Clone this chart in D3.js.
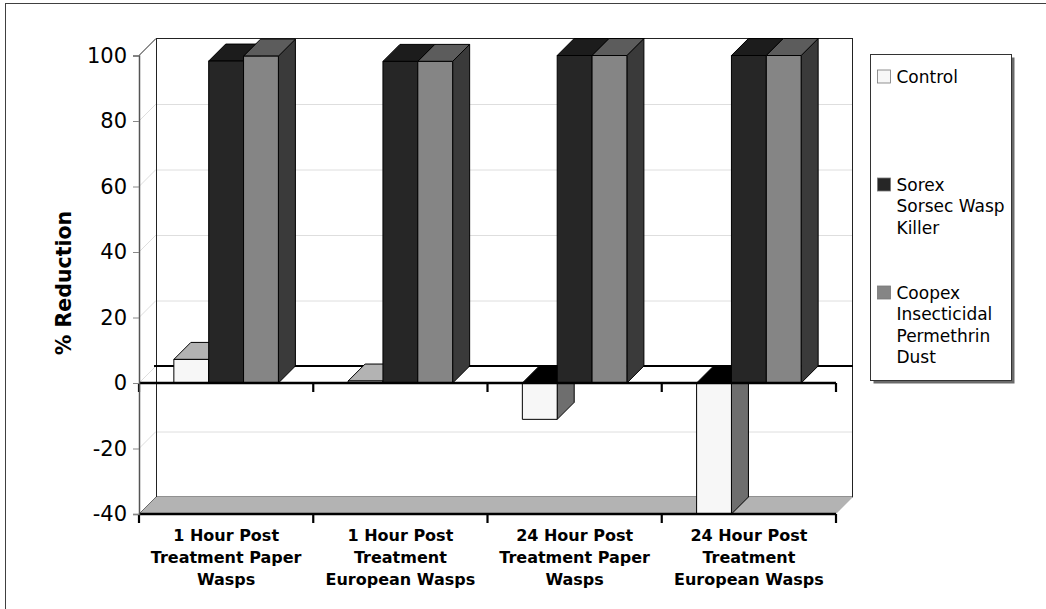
<!DOCTYPE html>
<html>
<head>
<meta charset="utf-8">
<script src="https://cdn.jsdelivr.net/npm/d3@7"></script>
<style>
  html, body { margin: 0; padding: 0; background: #fff; }
  svg { display: block; font-family: "DejaVu Sans", Verdana, sans-serif; }
</style>
</head>
<body>
<script>
// ---- data ----
const categoryLines = [
  ["1 Hour Post", "Treatment Paper", "Wasps"],
  ["1 Hour Post", "Treatment", "European Wasps"],
  ["24 Hour Post", "Treatment Paper", "Wasps"],
  ["24 Hour Post", "Treatment", "European Wasps"]
];
const categories = categoryLines.map(l => l.join(" "));

const seriesLines = [
  ["Control"],
  ["Sorex", "Sorsec Wasp", "Killer"],
  ["Coopex", "Insecticidal", "Permethrin", "Dust"]
];
const seriesNames = seriesLines.map(l => l.join(" "));

const controlValues = [7.2, 0.6, -11.1, -40];
const sorexValues   = [98.3, 98.2, 100, 100];
const coopexValues  = [99.8, 98.2, 100, 100];
const seriesValues = [controlValues, sorexValues, coopexValues];

const yTicks = [-40, -20, 0, 20, 40, 60, 80, 100];
const yTitle = "% Reduction";

// face shading per series: front, top, right side, top face seen at zero for negative bars
const faceColors = [
  { front: "#f7f7f7", top: "#b3b3b3", side: "#6e6e6e", capNeg: "#000000" },
  { front: "#262626", top: "#1c1c1c", side: "#141414", capNeg: "#000000" },
  { front: "#858585", top: "#5c5c5c", side: "#3a3a3a", capNeg: "#2a2a2a" }
];

// ---- layout ----
const W = 1046, H = 609;
const depth = 17;
const svg = d3.select("body").append("svg")
  .attr("width", W).attr("height", H)
  .style("overflow", "hidden");

const y = d3.scaleLinear().domain([-40, 100]).range([514, 55.5]);
const x = d3.scaleBand().domain(categories).range([139, 836]);
const xs = d3.scaleBand().domain(seriesNames).range([0, x.bandwidth()])
  .paddingInner(0).paddingOuter(1);

const [xL, xR] = x.range();
const poly = pts => "M" + pts.map(p => p.join(",")).join("L") + "Z";

// chart area border
svg.append("rect")
  .attr("x", 5.5).attr("y", 3.5).attr("width", 1200).attr("height", 800)
  .attr("fill", "none").attr("stroke", "#404040").attr("stroke-width", 1);

const yTop = y(100), yBot = y(-40), y0 = y(0);

// back wall
svg.append("rect")
  .attr("x", xL + depth).attr("y", yTop - depth)
  .attr("width", xR - xL).attr("height", yBot - yTop)
  .attr("fill", "#fff");

// gridlines on back and side walls
const grid = svg.append("g").attr("stroke", "#dedede").attr("stroke-width", 1).attr("fill", "none");
yTicks.filter(v => v !== -40 && v !== 100).forEach(v => {
  if (v !== 0) {
    grid.append("line")
      .attr("x1", xL + depth).attr("x2", xR + depth)
      .attr("y1", y(v) - depth + 0.5).attr("y2", y(v) - depth + 0.5);
  }
  grid.append("line")
    .attr("x1", xL).attr("y1", y(v))
    .attr("x2", xL + depth).attr("y2", y(v) - depth);
});

// wall outlines
const walls = svg.append("g").attr("stroke", "#222").attr("stroke-width", 1).attr("fill", "none");
walls.append("line").attr("x1", xL + depth).attr("x2", xR + depth)
  .attr("y1", yTop - depth).attr("y2", yTop - depth);
walls.append("line").attr("x1", xL).attr("y1", yTop)
  .attr("x2", xL + depth).attr("y2", yTop - depth);
walls.append("line").attr("x1", xL + depth + 0.5).attr("x2", xL + depth + 0.5)
  .attr("y1", yTop - depth).attr("y2", yBot - depth);
walls.append("line").attr("x1", xR + depth - 0.5).attr("x2", xR + depth - 0.5)
  .attr("y1", yTop - depth).attr("y2", yBot - depth);

// floor at the axis minimum
svg.append("path")
  .attr("d", poly([[xL, yBot], [xL + depth, yBot - depth], [xR + depth, yBot - depth], [xR, yBot]]))
  .attr("fill", "#b3b3b3");
walls.append("line").attr("x1", xL + depth).attr("x2", xR + depth)
  .attr("y1", yBot - depth).attr("y2", yBot - depth);
walls.append("line").attr("x1", xL).attr("y1", yBot)
  .attr("x2", xL + depth).attr("y2", yBot - depth);

// back edge of the zero plane
svg.append("line")
  .attr("x1", xL + depth - 2).attr("x2", xR + depth)
  .attr("y1", y0 - depth).attr("y2", y0 - depth)
  .attr("stroke", "#000").attr("stroke-width", 2.2);

// ---- bars ----
const bars = svg.append("g").attr("stroke", "#000").attr("stroke-width", 1).attr("stroke-linejoin", "round");
categories.forEach((cat, ci) => {
  seriesNames.forEach((s, si) => {
    const v = seriesValues[si][ci];
    const c = faceColors[si];
    const bx = x(cat) + xs(s);
    const w = xs.bandwidth();
    const top = Math.min(y(v), y0), bottom = Math.max(y(v), y0);
    bars.append("path")
      .attr("d", poly([[bx + w, top], [bx + w + depth, top - depth], [bx + w + depth, bottom - depth], [bx + w, bottom]]))
      .attr("fill", c.side);
    bars.append("path")
      .attr("d", poly([[bx, top], [bx + depth, top - depth], [bx + w + depth, top - depth], [bx + w, top]]))
      .attr("fill", v >= 0 ? c.top : c.capNeg);
    bars.append("rect")
      .attr("x", bx).attr("y", top).attr("width", w).attr("height", bottom - top)
      .attr("fill", c.front);
  });
});

// ---- category axes (zero line and bottom line) ----
const boundaries = categories.map(c => x(c)).concat([xR]);
[y0, yBot].forEach(yy => {
  const g = svg.append("g").attr("stroke", "#000");
  g.append("line").attr("x1", xL).attr("x2", xR).attr("y1", yy).attr("y2", yy)
    .attr("stroke-width", 2.4);
  boundaries.forEach(bx => {
    g.append("line").attr("x1", bx).attr("x2", bx).attr("y1", yy).attr("y2", yy + 9)
      .attr("stroke-width", 2.2);
  });
});

// category labels
const catLabels = svg.append("g")
  .attr("font-size", 16).attr("font-weight", "bold").attr("fill", "#000")
  .attr("text-anchor", "middle");
categoryLines.forEach((lines, ci) => {
  const cx = x(categories[ci]) + x.bandwidth() / 2;
  const t = catLabels.append("text").attr("x", cx).attr("y", 541);
  lines.forEach((ln, li) => {
    t.append("tspan").attr("x", cx).attr("dy", li === 0 ? 0 : 22).text(ln);
  });
});

// ---- value axis ----
const yAxis = svg.append("g")
  .attr("transform", `translate(${xL},0)`)
  .call(d3.axisLeft(y).tickValues(yTicks).tickSize(6).tickPadding(6).tickFormat(d => String(d)));
yAxis.select(".domain").attr("stroke", "#555").attr("stroke-width", 1.5);
yAxis.selectAll(".tick line").attr("stroke", "#888");
yAxis.selectAll(".tick text")
  .attr("font-size", 21).attr("font-family", "DejaVu Sans, Verdana, sans-serif").attr("fill", "#000");

svg.append("text")
  .attr("transform", "translate(71,283) rotate(-90)")
  .attr("text-anchor", "middle")
  .attr("font-size", 20.5).attr("font-weight", "bold").attr("fill", "#000")
  .text(yTitle);

// ---- legend ----
const lg = svg.append("g");
const lx = 870.5, ly = 54.5, lw = 141, lh = 326;
lg.append("rect").attr("x", lx + 3).attr("y", ly + 3).attr("width", lw).attr("height", lh)
  .attr("fill", "#6a6a6a");
lg.append("rect").attr("x", lx).attr("y", ly).attr("width", lw).attr("height", lh)
  .attr("fill", "#fff").attr("stroke", "#333").attr("stroke-width", 1);
seriesLines.forEach((lines, si) => {
  const base = 82.5 + si * 108;
  lg.append("rect")
    .attr("x", 877.5).attr("y", base - 12.5).attr("width", 13).attr("height", 13)
    .attr("fill", faceColors[si].front).attr("stroke", "#777").attr("stroke-width", 0.8);
  const t = lg.append("text").attr("x", 896.5).attr("y", base)
    .attr("font-size", 17).attr("fill", "#000");
  lines.forEach((ln, li) => {
    t.append("tspan").attr("x", 896.5).attr("dy", li === 0 ? 0 : 21.6).text(ln);
  });
});
</script>
</body>
</html>
